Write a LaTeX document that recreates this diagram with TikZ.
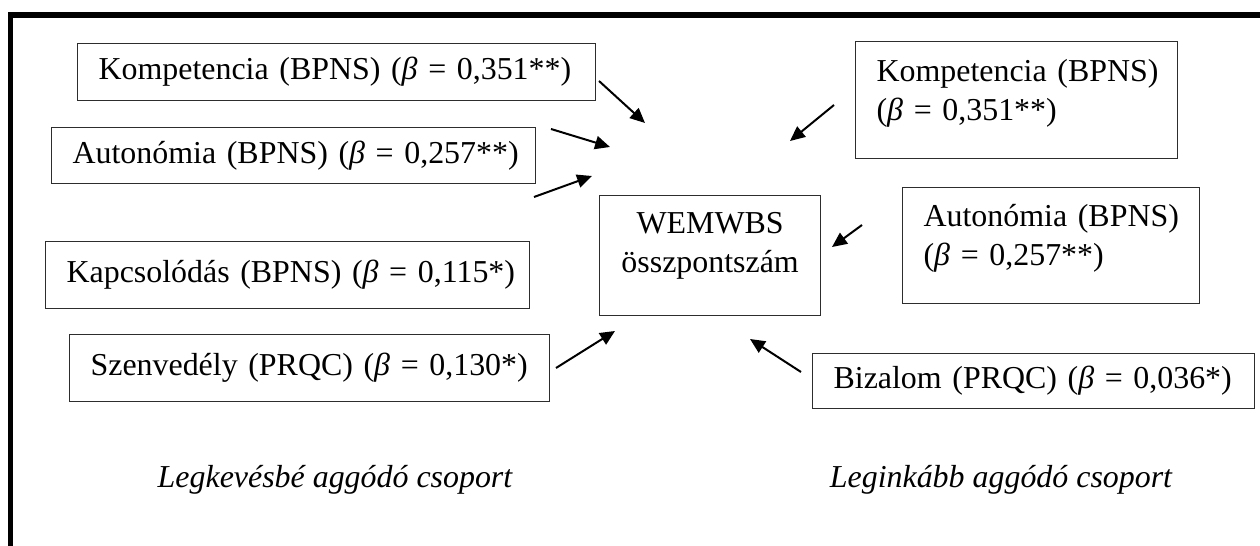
\documentclass[tikz,border=0pt]{standalone}
\usepackage{fontspec}
\setmainfont{Liberation Serif}
\usetikzlibrary{arrows.meta,positioning}
\definecolor{boxline}{RGB}{45,45,45}

\begin{document}
\begin{tikzpicture}[x=0.376pt,y=-0.376pt,
    tbox/.style={draw=boxline,line width=0.45pt,anchor=north west,align=left,
      inner xsep=0pt,inner ysep=0pt,font=\fontsize{12}{14.7}\selectfont,
      execute at begin node={\leftskip=7.9pt}},
    cbox/.style={draw=boxline,line width=0.45pt,anchor=north west,align=center,
      inner xsep=0pt,inner ysep=0pt,font=\fontsize{12}{14.7}\selectfont},
    arr/.style={line width=0.75pt,-{Triangle[length=5.6pt,width=5pt]}},
    grp/.style={font=\fontsize{12}{14.7}\selectfont\itshape}]
  \useasboundingbox (0,0) rectangle (1260,546);
  % outer frame (only top and left are visible)
  \draw[line width=1.9pt] (10.5,546) -- (10.5,15) -- (1260,15);
  % left group
  \node[tbox,minimum width=194.8pt,minimum height=21.4pt,text width=194.8pt] (kompL) at (77,43) {Kompetencia (BPNS) (\textit{β} = 0,351**)};
  \node[tbox,minimum width=182pt,minimum height=21.1pt,text width=182pt] (autoL) at (51,127) {Autonómia (BPNS) (\textit{β} = 0,257**)};
  \node[tbox,minimum width=182pt,minimum height=25.2pt,text width=182pt] (kapcsL) at (45,241) {Kapcsolódás (BPNS) (\textit{β} = 0,115*)};
  \node[tbox,minimum width=180.5pt,minimum height=25.2pt,text width=180.5pt] (szenvL) at (69,334) {Szenvedély (PRQC) (\textit{β} = 0,130*)};
  % outcome
  \node[cbox,minimum width=83.1pt,minimum height=45.1pt,text depth=10pt] (wemwbs) at (599,195) {WEMWBS\\összpontszám};
  % right group
  \node[tbox,minimum width=121.1pt,minimum height=44pt,text width=121.1pt,text depth=22.5pt] (kompR) at (855,41) {Kompetencia (BPNS)\\(\textit{β} = 0,351**)};
  \node[tbox,minimum width=111.7pt,minimum height=43.6pt,text width=111.7pt,text depth=22.5pt] (autoR) at (902,187) {Autonómia (BPNS)\\(\textit{β} = 0,257**)};
  \node[tbox,minimum width=166.2pt,minimum height=20.7pt,text width=166.2pt] (bizR) at (812,353) {Bizalom (PRQC) (\textit{β} = 0,036*)};
  % group labels
  \node[grp] (legkev) at (335,480) {Legkevésbé aggódó csoport};
  \node[grp] (legink) at (1001,480) {Leginkább aggódó csoport};
  % arrow ends
  \coordinate (kompL-s) at (599,81);  \coordinate (kompL-e) at (645,123);
  \coordinate (autoL-s) at (551,129); \coordinate (autoL-e) at (610,147);
  \coordinate (kapcsL-s) at (534,197); \coordinate (kapcsL-e) at (592,176);
  \coordinate (szenvL-s) at (556,368); \coordinate (szenvL-e) at (615,331);
  \coordinate (kompR-s) at (834,105); \coordinate (kompR-e) at (790,141);
  \coordinate (autoR-s) at (862,225); \coordinate (autoR-e) at (832,247);
  \coordinate (bizR-s) at (801,372);  \coordinate (bizR-e) at (750,339);
  \foreach \n in {kompL,autoL,kapcsL,szenvL,kompR,autoR,bizR}
    \draw[arr] (\n-s) -- (\n-e);
\end{tikzpicture}
\end{document}
